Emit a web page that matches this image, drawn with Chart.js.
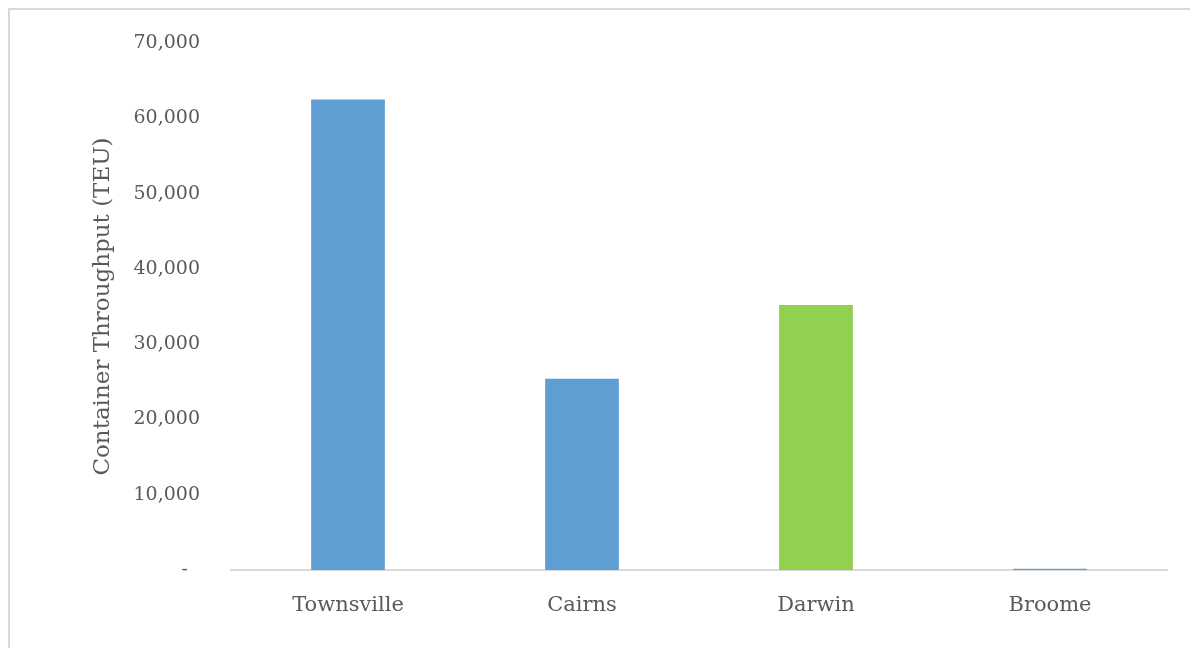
<!DOCTYPE html>
<html>
<head>
<meta charset="utf-8">
<script src="https://cdn.jsdelivr.net/npm/chart.js@4/dist/chart.umd.min.js"></script>
<style>
  html, body { margin: 0; padding: 0; background: #fff; overflow: hidden; }
  #wrap { position: relative; width: 1190px; height: 648px; }
  #frame { position: absolute; left: 8px; top: 8px; width: 1200px; height: 660px; border: 2px solid #d9d9d9; box-sizing: border-box; }
  canvas { position: absolute; left: 0; top: 0; }
</style>
</head>
<body>
<div id="wrap">
  <div id="frame"></div>
  <canvas id="chart" width="1190" height="648"></canvas>
</div>
<script>
// ===== DATA =====
const ports = ['Townsville', 'Cairns', 'Darwin', 'Broome'];
const throughput = [62500, 25400, 35200, 150];
const yTicks = [0, 10000, 20000, 30000, 40000, 50000, 60000, 70000];

const BLUE = '#5f9ed3';
const GREEN = '#92d050';
const TEXT = '#595959';
const FONT = "'DejaVu Serif', 'Liberation Serif', serif";

const barColors = ports.map(p => p === 'Darwin' ? GREEN : BLUE);

new Chart(document.getElementById('chart'), {
  type: 'bar',
  data: {
    labels: ports,
    datasets: [{
      data: throughput,
      backgroundColor: barColors,
      borderWidth: 0,
      barPercentage: 1,
      categoryPercentage: 0.315
    }]
  },
  options: {
    responsive: false,
    animation: false,
    layout: { padding: { top: 43, right: 23, left: 0, bottom: 0 } },
    plugins: { legend: { display: false }, tooltip: { enabled: false } },
    scales: {
      x: {
        grid: { display: false, drawTicks: false },
        border: { color: '#d9d9d9', width: 2 },
        ticks: { color: TEXT, font: { family: FONT, size: 21 }, padding: 23 },
        afterFit: s => { s.height = 78; }
      },
      y: {
        min: 0,
        max: 70000,
        afterBuildTicks: s => { s.ticks = yTicks.map(v => ({ value: v })); },
        grid: { display: false, drawTicks: false },
        border: { display: false },
        ticks: {
          color: TEXT,
          font: { family: FONT, size: 19 },
          padding: 31,
          callback: v => v === 0 ? '-  ' : v.toLocaleString('en-US')
        },
        title: {
          display: true,
          text: 'Container Throughput (TEU)',
          color: TEXT,
          font: { family: FONT, size: 23 },
          padding: { top: 89, bottom: 0 }
        },
        afterFit: s => { s.width = 231; }
      }
    }
  }
});
</script>
</body>
</html>
